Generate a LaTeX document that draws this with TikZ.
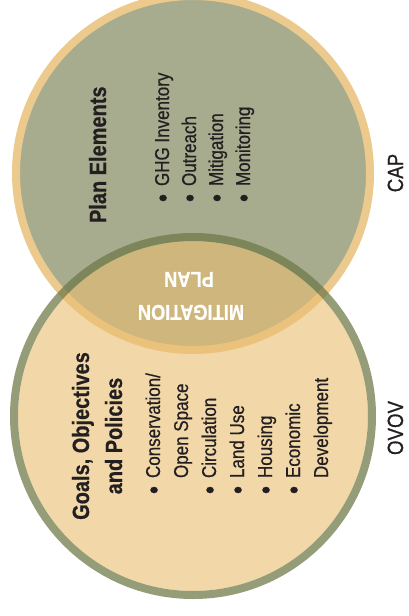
\documentclass[tikz,border=0pt]{standalone}
\usepackage{fontspec}
\setmainfont[FakeStretch=0.85,FakeBold=0.6]{Liberation Sans}
\usepackage{tikz}
\usetikzlibrary{calc,positioning}

\definecolor{capfill}{RGB}{167,172,142}
\definecolor{capring}{RGB}{236,201,140}
\definecolor{ovovfill}{RGB}{233,190,112}
\definecolor{ovovring}{RGB}{111,122,73}
\definecolor{inktext}{RGB}{35,31,32}

\newcommand{\dotmark}{\makebox[16pt][l]{\raisebox{-3pt}{\fontsize{27}{27}\selectfont\textbullet}}}

\begin{document}
\begin{tikzpicture}[x=1pt,y=-1pt]

  \tikzstyle{every node}=[inner sep=0pt,outer sep=0pt,text=inktext]
  \tikzstyle{heading}=[rotate=90,font=\bfseries\fontsize{23.5}{27}\selectfont]
  \tikzstyle{item}=[rotate=90,anchor=base west,font=\fontsize{20}{24}\selectfont]
  \tikzstyle{tag}=[rotate=90,anchor=base,font=\fontsize{22}{26}\selectfont]
  \tikzstyle{shared}=[rotate=180,anchor=base,text=white,font=\bfseries\fontsize{21.5}{25}\selectfont]

  \useasboundingbox (0,0) rectangle (408,616);
  \clip (0,0) rectangle (408,616);

  % CAP circle
  \fill[capfill] (193,173) circle (177);
  \draw[capring,line width=8pt] (193,173) circle (177);

  % OVOV circle, see-through
  \fill[ovovfill,fill opacity=0.6] (193,416) circle (175);
  \draw[ovovring,line width=8pt,draw opacity=0.74] (193,416) circle (179);

  % CAP side
  \node[heading,anchor=base west] (planel) at (106,223) {Plan Elements};
  \node[item] (ghg) at (169,202) {\dotmark GHG Inventory};
  \node[item] (outr) at (196,202) {\dotmark Outreach};
  \node[item] (mitig) at (223,202) {\dotmark Mitigation};
  \node[item] (monit) at (250,202) {\dotmark Monitoring};
  \node[tag] (cap) at (403,173) {CAP};

  % OVOV side
  \node[heading,anchor=base] (goals) at (89,436) {Goals, Objectives};
  \node[heading,anchor=base] (polic) at (122,436) {and Policies};
  \node[item] (conse) at (160,494) {\dotmark Conservation/};
  \node[item] (opens) at (188,494) {\hspace*{16pt}Open Space};
  \node[item] (circu) at (216,494) {\dotmark Circulation};
  \node[item] (landu) at (244,494) {\dotmark Land Use};
  \node[item] (housi) at (272,494) {\dotmark Housing};
  \node[item] (econo) at (300,494) {\dotmark Economic};
  \node[item] (devel) at (328,494) {\hspace*{16pt}Development};
  \node[tag] (ovov) at (403,428) {OVOV};

  % overlap
  \node[shared] (mitpl) at (191,305) {MITIGATION};
  \node[shared] (plan) at (189,272) {PLAN};

\end{tikzpicture}
\end{document}
